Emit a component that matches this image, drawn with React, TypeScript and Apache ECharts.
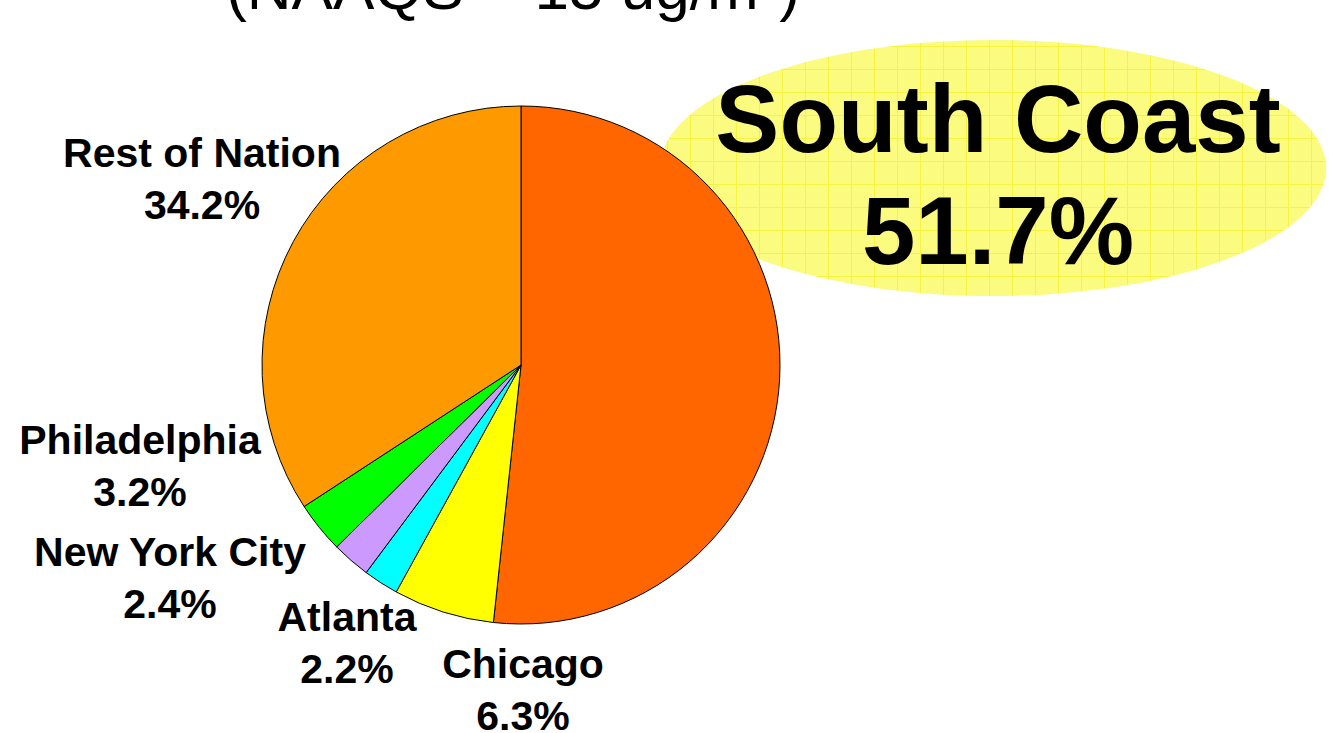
import React, { useEffect, useRef } from "react";
import * as echarts from "echarts";

const categories = ["South Coast", "Chicago", "Atlanta", "New York City", "Philadelphia", "Rest of Nation"];
const shares = [51.7, 6.3, 2.2, 2.4, 3.2, 34.2];
const colors = ["#FF6600", "#FFFF00", "#00FFFF", "#CC99FF", "#00FF00", "#FF9900"];
const titleText = "(NAAQS = 15 ug/m³)";

// label block centres (layout only)
const labelPos: [number, number][] = [
  [998, 174],
  [523, 690],
  [347, 643],
  [170, 578],
  [140, 466],
  [202, 179],
];

function makePattern(): string {
  const c = document.createElement("canvas");
  c.width = 23;
  c.height = 23;
  const ctx = c.getContext("2d")!;
  ctx.fillStyle = "#FBFB80";
  ctx.fillRect(0, 0, 23, 23);
  ctx.fillStyle = "#F6F440";
  ctx.fillRect(0, 0, 23, 1);
  ctx.fillRect(0, 0, 1, 23);
  return c.toDataURL();
}

export default function App() {
  const ref = useRef<HTMLDivElement>(null);
  useEffect(() => {
    document.body.style.margin = "0";
    const chart = echarts.init(ref.current!, null, { renderer: "svg" });
    const pattern = makePattern();
    chart.setOption({
      animation: false,
      backgroundColor: "#ffffff",
      graphic: [
        {
          type: "ellipse",
          z: 0,
          shape: { cx: 993, cy: 168, rx: 333, ry: 128 },
          style: { fill: { image: pattern, repeat: "repeat" } as any },
        },
        {
          type: "text",
          z: 10,
          x: 513,
          y: -13,
          style: {
            text: titleText,
            font: "62px 'Liberation Sans', Arial, sans-serif",
            fill: "#000",
            align: "center",
            verticalAlign: "middle",
          },
        },
      ],
      series: [
        {
          type: "pie",
          z: 5,
          center: [521, 365],
          radius: 259,
          startAngle: 90,
          clockwise: true,
          avoidLabelOverlap: false,
          labelLine: { show: false },
          itemStyle: { borderColor: "#000", borderWidth: 1 },
          label: {
            show: true,
            position: "outside",
            formatter: "{b}\n{c}%",
            fontFamily: "'Liberation Sans', Arial, sans-serif",
            fontWeight: "bold",
            fontSize: 41,
            lineHeight: 52,
            color: "#000",
            align: "center",
          },
          labelLayout: (params: any) => {
            const p = labelPos[params.dataIndex];
            return { x: p[0], y: p[1], align: "center", verticalAlign: "middle" };
          },
          data: categories.map((name, i) => ({
            name,
            value: shares[i],
            itemStyle: { color: colors[i] },
            label:
              i === 0
                ? { fontSize: 96, lineHeight: 112 }
                : undefined,
          })),
        },
      ],
    });
    return () => chart.dispose();
  }, []);
  return <div ref={ref} style={{ width: 1329, height: 733 }} />;
}
